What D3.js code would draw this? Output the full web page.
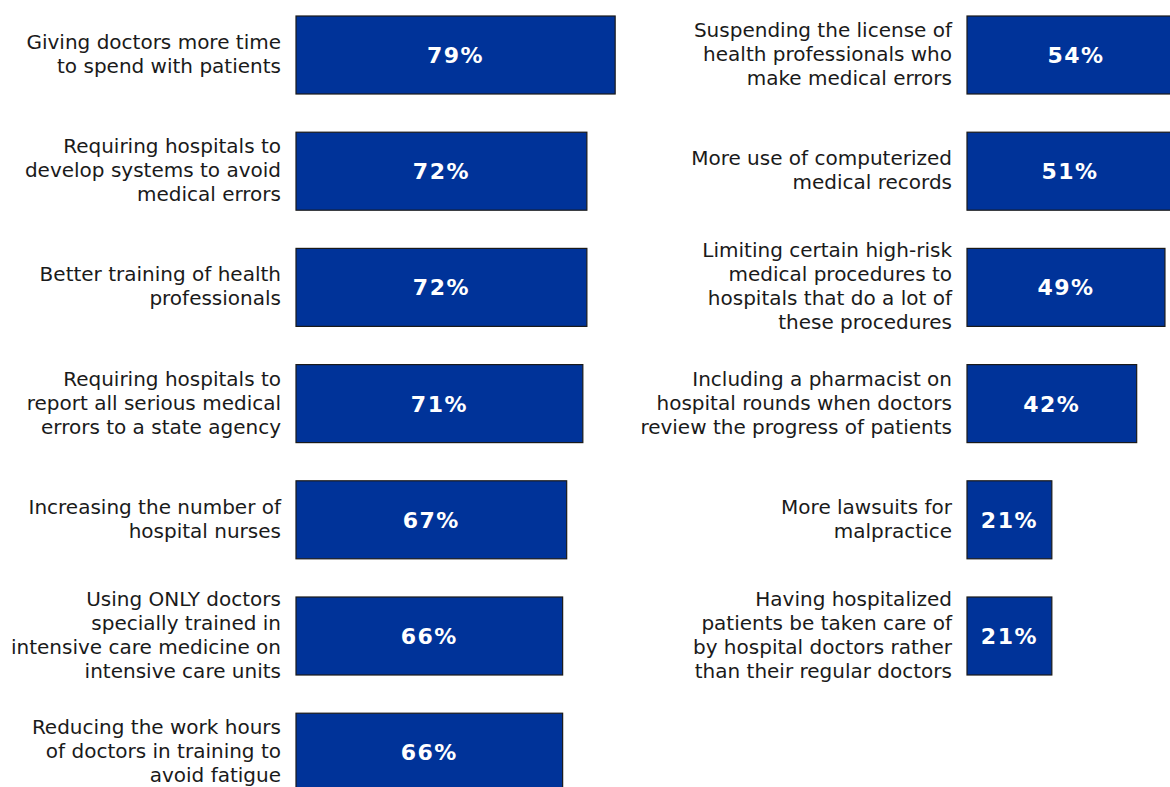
<!DOCTYPE html>
<html>
<head>
<meta charset="utf-8">
<script src="https://cdn.jsdelivr.net/npm/d3@7"></script>
<style>
  html, body { margin: 0; padding: 0; background: #fff; }
  svg { display: block; }
</style>
</head>
<body>
<svg id="chart" width="1170" height="787"></svg>
<script>
// Left column: share supporting each proposal
const leftLabels = [
  ["Giving doctors more time", "to spend with patients"],
  ["Requiring hospitals to", "develop systems to avoid", "medical errors"],
  ["Better training of health", "professionals"],
  ["Requiring hospitals to", "report all serious medical", "errors to a state agency"],
  ["Increasing the number of", "hospital nurses"],
  ["Using ONLY doctors", "specially trained in", "intensive care medicine on", "intensive care units"],
  ["Reducing the work hours", "of doctors in training to", "avoid fatigue"]
];
const leftValues = [79, 72, 72, 71, 67, 66, 66];

// Right column
const rightLabels = [
  ["Suspending the license of", "health professionals who", "make medical errors"],
  ["More use of computerized", "medical records"],
  ["Limiting certain high-risk", "medical procedures to", "hospitals that do a lot of", "these procedures"],
  ["Including a pharmacist on", "hospital rounds when doctors", "review the progress of patients"],
  ["More lawsuits for", "malpractice"],
  ["Having hospitalized", "patients be taken care of", "by hospital doctors rather", "than their regular doctors"]
];
const rightValues = [54, 51, 49, 42, 21, 21];

const svg = d3.select("#chart");

const step = 116.2, barH = 78, firstTop = 16;
const pad = (step - barH) / step;
const y = d3.scaleBand()
  .domain(d3.range(7))
  .range([firstTop - pad * step / 2, firstTop - pad * step / 2 + 7 * step])
  .paddingInner(pad)
  .paddingOuter(pad / 2);

const x = d3.scaleLinear().domain([0, 100]).range([0, 404]);

const FONT = "'DejaVu Sans', Verdana, sans-serif";
const lineH = 24;

function drawColumn(labels, values, barX) {
  const g = svg.append("g");
  const rows = g.selectAll("g.row")
    .data(values.map((v, i) => ({ v, i, lines: labels[i] })))
    .join("g").attr("class", "row");

  rows.append("rect")
    .attr("x", barX)
    .attr("y", d => y(d.i))
    .attr("width", d => x(d.v))
    .attr("height", y.bandwidth())
    .attr("fill", "#003399")
    .attr("stroke", "#1a1a1a")
    .attr("stroke-width", 1.2);

  rows.append("text")
    .attr("x", d => barX + x(d.v) / 2)
    .attr("y", d => y(d.i) + y.bandwidth() / 2)
    .attr("dy", "0.36em")
    .attr("text-anchor", "middle")
    .attr("fill", "#fff")
    .attr("font-family", FONT)
    .attr("font-weight", "bold")
    .attr("font-size", 22)
    .attr("letter-spacing", 1.5)
    .text(d => d.v + "%");

  const lab = rows.append("text")
    .attr("text-anchor", "end")
    .attr("fill", "#1a1a1a")
    .attr("font-family", FONT)
    .attr("font-size", 20);
  lab.selectAll("tspan")
    .data(d => d.lines.map((t, k) => ({ t, k, n: d.lines.length, i: d.i })))
    .join("tspan")
    .attr("x", barX - 15)
    .attr("y", d => y(d.i) + y.bandwidth() / 2 - 1 + (d.k - (d.n - 1) / 2) * lineH)
    .attr("dy", "0.35em")
    .text(d => d.t);
}

drawColumn(leftLabels, leftValues, 296);
drawColumn(rightLabels, rightValues, 967);
</script>
</body>
</html>
